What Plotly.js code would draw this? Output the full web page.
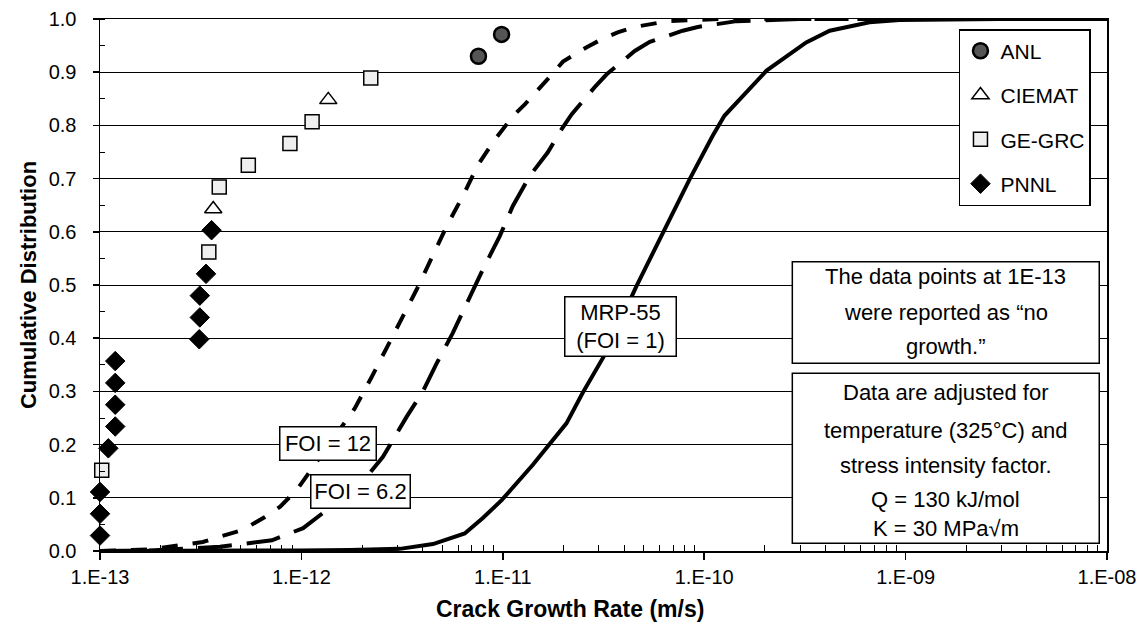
<!DOCTYPE html>
<html>
<head>
<meta charset="utf-8">
<script src="https://cdn.plot.ly/plotly-3.0.1.min.js"></script>
<style>html,body{margin:0;padding:0;background:#fff;}#chart{width:1146px;height:638px;}</style>
</head>
<body>
<div id="chart"></div>
<script>
// ---- Data ----
const xTickVals = [1e-13, 1e-12, 1e-11, 1e-10, 1e-9, 1e-8];
const xTickText = ['1.E-13', '1.E-12', '1.E-11', '1.E-10', '1.E-09', '1.E-08'];

const mrpX = [1e-13, 3.13e-13, 9.8e-13, 1.74e-12, 3.08e-12, 4.50e-12, 6.47e-12, 7.96e-12, 9.9e-12, 1.41e-11, 2.07e-11, 2.49e-11, 3.21e-11, 4.61e-11, 6.22e-11, 8.47e-11, 1.10e-10, 1.26e-10, 2.04e-10, 3.21e-10, 4.20e-10, 6.62e-10, 9.33e-10, 2.93e-9, 1e-8];
const mrpY = [0, 0, 0.001, 0.002, 0.004, 0.013, 0.033, 0.062, 0.096, 0.162, 0.240, 0.297, 0.369, 0.498, 0.599, 0.699, 0.780, 0.818, 0.903, 0.956, 0.978, 0.994, 0.998, 1.0, 1.0];

const foi12X = [1e-13, 1.77e-13, 3.24e-13, 3.94e-13, 5.13e-13, 6.59e-13, 7.82e-13, 9.5e-13, 1.18e-12, 1.84e-12, 2.24e-12, 2.69e-12, 3.19e-12, 3.74e-12, 4.45e-12, 5.27e-12, 6.33e-12, 7.51e-12, 8.92e-12, 1.0e-11, 1.12e-11, 1.29e-11, 1.48e-11, 1.67e-11, 1.99e-11, 2.20e-11, 2.61e-11, 3.10e-11, 3.72e-11, 4.52e-11, 5.37e-11, 6.59e-11, 1.19e-10, 1e-8];
const foi12Y = [0, 0.003, 0.017, 0.026, 0.040, 0.064, 0.083, 0.115, 0.166, 0.268, 0.328, 0.385, 0.441, 0.492, 0.554, 0.611, 0.667, 0.725, 0.768, 0.793, 0.817, 0.840, 0.864, 0.887, 0.920, 0.930, 0.947, 0.962, 0.975, 0.985, 0.990, 0.996, 1.0, 1.0];

const foi62X = [1e-13, 1.77e-13, 3.94e-13, 5.87e-13, 7.14e-13, 1.02e-12, 1.21e-12, 1.38e-12, 1.74e-12, 2.19e-12, 2.54e-12, 2.84e-12, 3.34e-12, 4.01e-12, 4.70e-12, 5.65e-12, 6.86e-12, 7.96e-12, 9.66e-12, 1.12e-11, 1.36e-11, 1.67e-11, 1.96e-11, 2.20e-11, 2.86e-11, 3.28e-11, 4.52e-11, 5.37e-11, 7.82e-11, 9.29e-11, 1.45e-10, 2.98e-10, 1e-8];
const foi62Y = [0, 0.001, 0.008, 0.015, 0.020, 0.043, 0.064, 0.081, 0.113, 0.147, 0.177, 0.209, 0.253, 0.300, 0.353, 0.410, 0.479, 0.529, 0.592, 0.648, 0.705, 0.749, 0.793, 0.821, 0.872, 0.896, 0.940, 0.957, 0.978, 0.985, 0.996, 1.0, 1.0];

const anlX = [7.57e-12, 9.86e-12];
const anlY = [0.930, 0.971];
const ciematX = [3.65e-13, 1.36e-12];
const ciematY = [0.643, 0.848];
const gegrcX = [1.02e-13, 3.47e-13, 3.91e-13, 5.45e-13, 8.77e-13, 1.13e-12, 2.21e-12];
const gegrcY = [0.152, 0.562, 0.684, 0.725, 0.766, 0.807, 0.889];
const pnnlX = [1.0e-13, 1.0e-13, 1.0e-13, 1.10e-13, 1.19e-13, 1.19e-13, 1.19e-13, 1.19e-13, 3.11e-13, 3.13e-13, 3.13e-13, 3.36e-13, 3.58e-13];
const pnnlY = [0.029, 0.070, 0.111, 0.193, 0.234, 0.275, 0.316, 0.357, 0.398, 0.439, 0.480, 0.521, 0.603];

const note1Lines = ['The data points at 1E-13', 'were reported as \u201cno', 'growth.\u201d'];
const note2Lines = ['Data are adjusted for', 'temperature (325\u00b0C) and', 'stress intensity factor.', 'Q = 130 kJ/mol', 'K = 30 MPa\u221am'];

// ---- Styling ----
const FONT = '"Liberation Sans", Arial, sans-serif';
const minorX = [];
for (let e = -13; e < -8; e++) { for (let m = 2; m <= 9; m++) { minorX.push(m * Math.pow(10, e)); } }

const lineTrace = (x, y, dash, name) => ({
  x: x, y: y, mode: 'lines', name: name, showlegend: false, hoverinfo: 'skip',
  line: {color: 'black', width: 4, dash: dash}
});

const traces = [
  lineTrace(mrpX, mrpY, 'solid', 'MRP-55'),
  lineTrace(foi12X, foi12Y, '16px,15px', 'FOI = 12'),
  lineTrace(foi62X, foi62Y, '34px,15px', 'FOI = 6.2'),
  {x: anlX, y: anlY, mode: 'markers', name: 'ANL', legendgroup: 'a', cliponaxis: false,
   marker: {symbol: 'circle', size: 15, color: '#555', line: {color: 'black', width: 2.5}}},
  {x: ciematX, y: ciematY, mode: 'markers', name: 'CIEMAT', legendgroup: 'b', cliponaxis: false,
   marker: {symbol: 'triangle-up', size: 15, color: 'white', line: {color: 'black', width: 1.5}}},
  {x: gegrcX, y: gegrcY, mode: 'markers', name: 'GE-GRC', legendgroup: 'c', cliponaxis: false,
   marker: {symbol: 'square', size: 14, color: '#efefef', line: {color: 'black', width: 1.5}}},
  {x: pnnlX, y: pnnlY, mode: 'markers', name: 'PNNL', legendgroup: 'd', cliponaxis: false,
   marker: {symbol: 'diamond', size: 15, color: 'black', line: {color: 'black', width: 1}}}
];

const boxAnn = (x, y, text, w, h, size) => ({
  xref: 'paper', yref: 'paper', x: x, y: y, xanchor: 'center', yanchor: 'middle',
  text: text, showarrow: false, width: w, height: h, align: 'center',
  font: {family: FONT, size: size, color: 'black'},
  bgcolor: 'white', bordercolor: 'black', borderwidth: 1.5, borderpad: 1
});
const lineAnn = (y, text) => ({
  xref: 'paper', yref: 'paper', x: 0.840, y: y, xanchor: 'center', yanchor: 'middle',
  text: text, showarrow: false, font: {family: FONT, size: 22, color: 'black'}
});
const note1Y = [0.5169, 0.4474, 0.3835];
const note2Y = [0.2970, 0.2274, 0.1598, 0.0977, 0.0414];

const annotations = [
  boxAnn(0.2264, 0.203, 'FOI = 12', 93, 30, 22),
  boxAnn(0.2587, 0.1122, 'FOI = 6.2', 96, 30, 22),
  boxAnn(0.5164, 0.4229, 'MRP-55<br>(FOI = 1)', 108, 56, 22),
  {xref: 'paper', yref: 'paper', x: 0.4667, y: -0.109, xanchor: 'center', yanchor: 'middle',
   text: '<b>Crack Growth Rate (m/s)</b>', showarrow: false, font: {family: FONT, size: 23, color: 'black'}}
];
note1Lines.forEach((t, i) => annotations.push(lineAnn(note1Y[i], t)));
note2Lines.forEach((t, i) => annotations.push(lineAnn(note2Y[i], t)));

const layout = {
  width: 1146, height: 638,
  margin: {l: 100, r: 39, t: 19, b: 87},
  paper_bgcolor: 'white', plot_bgcolor: 'white',
  showlegend: true,
  xaxis: {
    type: 'log', range: [-13, -8],
    tickmode: 'array', tickvals: xTickVals, ticktext: xTickText,
    ticks: 'outside', ticklen: 7, tickwidth: 1.5, tickcolor: 'black',
    showline: true, linewidth: 1.5, linecolor: 'black', mirror: true,
    showgrid: false, zeroline: false,
    tickfont: {family: FONT, size: 20, color: 'black'},
    minor: {tickmode: 'array', tickvals: minorX, ticks: 'inside', ticklen: 6, tickwidth: 1, tickcolor: 'black', showgrid: false}
  },
  yaxis: {
    range: [0, 1], dtick: 0.1, tick0: 0, tickformat: '.1f',
    ticks: 'outside', ticklen: 6, tickwidth: 1.5, tickcolor: 'black',
    showline: true, linewidth: 1.5, linecolor: 'black', mirror: true,
    showgrid: true, gridcolor: 'black', gridwidth: 1, zeroline: false,
    ticklabelstandoff: 12,
    tickfont: {family: FONT, size: 20, color: 'black'},
    minor: {dtick: 0.05, ticks: 'inside', ticklen: 5, tickwidth: 1, tickcolor: 'black', showgrid: false},
    title: {text: 'Cumulative Distribution', font: {family: FONT, size: 22, color: 'black', weight: 'bold'}, standoff: 6}
  },
  legend: {
    x: 0.853, y: 0.981, xanchor: 'left', yanchor: 'top',
    bgcolor: 'white', bordercolor: 'black', borderwidth: 1.5,
    font: {family: FONT, size: 21, color: 'black'},
    tracegroupgap: 14, itemwidth: 30
  },
  shapes: [
    {type: 'rect', xref: 'paper', yref: 'paper', x0: 0.6875, x1: 0.9923, y0: 0.3528, y1: 0.5438,
     line: {color: 'black', width: 1.5}, fillcolor: 'white', layer: 'above'},
    {type: 'rect', xref: 'paper', yref: 'paper', x0: 0.6875, x1: 0.9923, y0: 0.0145, y1: 0.334,
     line: {color: 'black', width: 1.5}, fillcolor: 'white', layer: 'above'}
  ],
  annotations: annotations
};

Plotly.newPlot('chart', traces, layout, {displayModeBar: false, staticPlot: true});
</script>
</body>
</html>
